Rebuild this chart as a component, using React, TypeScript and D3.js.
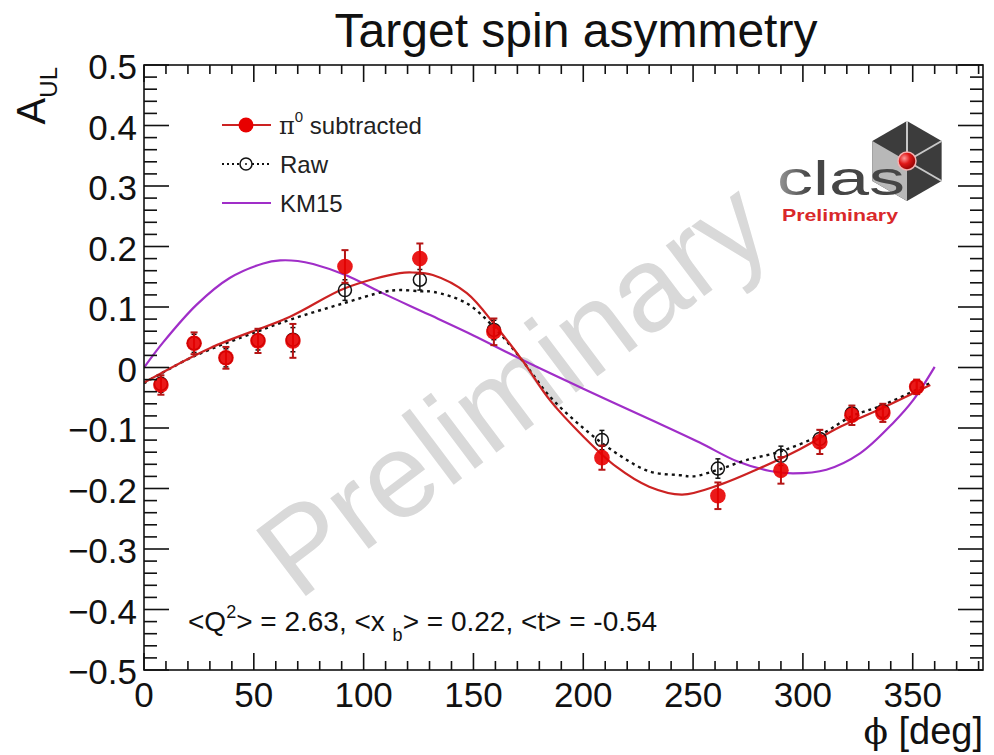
import React from "react";
import * as d3 from "d3";

// ---------- data ----------
const phiBins = [7.7, 22.8, 37.3, 51.9, 67.8, 91.5, 125.6, 159.3, 208.5, 261.3, 290, 307.7, 322.3, 336.4, 351.8];
const subtracted = [-0.029, 0.040, 0.016, 0.044, 0.044, 0.167, 0.180, 0.059, -0.149, -0.212, -0.170, -0.123, -0.079, -0.075, -0.032];
const subtractedErr = [0.016, 0.018, 0.018, 0.02, 0.028, 0.027, 0.025, 0.022, 0.02, 0.022, 0.022, 0.02, 0.016, 0.015, 0.012];
const raw = [-0.027, 0.040, 0.016, 0.045, 0.046, 0.128, 0.145, 0.062, -0.120, -0.167, -0.146, -0.118, -0.076, -0.072, -0.032];
const rawErr = [0.014, 0.015, 0.015, 0.016, 0.02, 0.017, 0.017, 0.016, 0.016, 0.016, 0.016, 0.015, 0.013, 0.012, 0.011];

const subFitPhi = [0, 30, 66.5, 91.5, 116.5, 122.5, 131.5, 147, 160.5, 172.6, 184.8, 200, 215, 230, 245, 262, 280, 298.6, 317, 335, 358];
const subFitA = [-0.025, 0.032, 0.084, 0.131, 0.156, 0.157, 0.153, 0.123, 0.067, 0.01, -0.054, -0.114, -0.164, -0.197, -0.21, -0.194, -0.167, -0.135, -0.098, -0.069, -0.029];

const rawFitPhi = [0, 22.4, 51.3, 66.5, 90.7, 109, 116.5, 125.6, 131.7, 147, 160.5, 172.6, 184.8, 200, 215.2, 230.3, 244, 250, 261.4, 274.3, 289.5, 307.7, 322, 336.5, 357.8];
const rawFitA = [-0.026, 0.018, 0.059, 0.079, 0.106, 0.125, 0.128, 0.126, 0.125, 0.106, 0.062, 0.01, -0.048, -0.1, -0.142, -0.172, -0.178, -0.18, -0.169, -0.153, -0.139, -0.112, -0.081, -0.062, -0.026];

const kmPhi = [0, 8.8, 24, 39, 54.3, 62, 70, 77, 92.3, 107.4, 130, 150, 172.6, 200, 230, 253, 270, 285, 295.5, 310.7, 326, 341, 350.2, 360];
const kmA = [0, 0.042, 0.104, 0.148, 0.172, 0.177, 0.176, 0.171, 0.152, 0.125, 0.087, 0.053, 0.012, -0.035, -0.085, -0.124, -0.155, -0.171, -0.175, -0.169, -0.142, -0.092, -0.054, 0.001];

const xMajorTicks = [0, 50, 100, 150, 200, 250, 300, 350];
const yMajorTicks = [-0.5, -0.4, -0.3, -0.2, -0.1, 0, 0.1, 0.2, 0.3, 0.4, 0.5];

const title = "Target spin asymmetry";
const legendLabels = ["subtracted", "Raw", "KM15"];

// ---------- layout ----------
const W = 994, H = 755;
const L = 144, R = 983, T = 65, B = 670;
const FONT = "'Liberation Sans', Arial, Helvetica, sans-serif";

const x = d3.scaleLinear().domain([0, 382]).range([L, R]);
const y = d3.scaleLinear().domain([-0.5, 0.5]).range([B, T]);

const RED = "#e80000";
const REDLINE = "#cc2222";
const PURPLE = "#a02ec8";

function fmtY(v: number) {
  if (Math.abs(v) < 1e-9) return "0";
  const s = Math.abs(v).toFixed(1);
  return v < 0 ? "\u2212" + s : s;
}

export default function App() {
  const xMinor = d3.range(0, 381, 10);
  const yMinor = d3.range(-50, 51, 2).map((v) => v / 100);

  const curve = d3.curveCatmullRom.alpha(0.5);
  const mkLine = (xs: number[], ys: number[]) =>
    d3.line<number>().x((_, i) => x(xs[i])).y((_, i) => y(ys[i])).curve(curve)(xs.map((_, i) => i)) || "";

  const subPath = mkLine(subFitPhi, subFitA);
  const rawPath = mkLine(rawFitPhi, rawFitA);
  const kmPath = mkLine(kmPhi, kmA);

  // hexagon for logo
  const hx = 907, hy = 161, hr = 40;
  const hexPts = d3.range(6).map((k) => {
    const a = ((-90 + 60 * k) * Math.PI) / 180;
    return [hx + hr * Math.cos(a), hy + hr * Math.sin(a)];
  });

  const legY = [125, 164, 203];

  return (
    <svg width={W} height={H} style={{ position: "absolute", left: 0, top: 0, background: "#fff" }} fontFamily={FONT}>
      <defs>
        <radialGradient id="ball" cx="35%" cy="35%" r="70%">
          <stop offset="0%" stopColor="#ff9a9a" />
          <stop offset="45%" stopColor="#e01818" />
          <stop offset="100%" stopColor="#8a0000" />
        </radialGradient>
        <linearGradient id="cgrad" x1="0" x2="1" y1="0" y2="0">
          <stop offset="0%" stopColor="#9a9a9a" />
          <stop offset="25%" stopColor="#454545" />
          <stop offset="100%" stopColor="#454545" />
        </linearGradient>
        <clipPath id="frame">
          <rect x={L} y={T} width={R - L} height={B - T} />
        </clipPath>
      </defs>
      <rect x={0} y={0} width={W} height={H} fill="#fff" />

      {/* title */}
      <text x={576} y={47} fontSize={48} textAnchor="middle" fill="#111">{title}</text>

      {/* watermark */}
      <text x={298} y={602} fontSize={120} fill="#d9d9d9" transform="rotate(-37 298 602)">Preliminary</text>

      {/* CLAS logo */}
      <g>
        <polygon points={hexPts.map((p) => p.join(",")).join(" ")} fill="#3c3c3c" />
        <polygon points={[[hx, hy], hexPts[3], hexPts[4], hexPts[5]].map((p) => p.join(",")).join(" ")} fill="#b8b8b8" />
        {[0, 1, 2].map((k) => (
          <line key={k} x1={hx} y1={hy} x2={hexPts[k][0]} y2={hexPts[k][1]} stroke="#c8c8c8" strokeWidth={2} />
        ))}
        <text x={777} y={195} fontSize={48} fill="url(#cgrad)" textLength={128} lengthAdjust="spacingAndGlyphs">clas</text>
        <circle cx={hx} cy={hy} r={9} fill="url(#ball)" stroke="#f4b0b0" strokeWidth={1.5} />
        <text x={782} y={221} fontSize={17} fontWeight="bold" fill="#d9282a" textLength={116} lengthAdjust="spacingAndGlyphs">Preliminary</text>
      </g>

      {/* curves */}
      <g clipPath="url(#frame)" fill="none">
        <path d={kmPath} stroke={PURPLE} strokeWidth={2.2} />
        <path d={rawPath} stroke="#111" strokeWidth={2.4} strokeDasharray="3,4" />
        <path d={subPath} stroke={REDLINE} strokeWidth={2.2} />
      </g>

      {/* raw points */}
      <g>
        {phiBins.map((p, i) => {
          const cx = x(p), cy = y(raw[i]);
          return (
            <g key={"r" + i} stroke="#111" strokeWidth={1.5}>
              <line x1={cx} x2={cx} y1={y(raw[i] + rawErr[i])} y2={y(raw[i] - rawErr[i])} />
              <line x1={cx - 2.5} x2={cx + 2.5} y1={y(raw[i] + rawErr[i])} y2={y(raw[i] + rawErr[i])} />
              <line x1={cx - 2.5} x2={cx + 2.5} y1={y(raw[i] - rawErr[i])} y2={y(raw[i] - rawErr[i])} />
              <circle cx={cx} cy={cy} r={6.5} fill="none" />
            </g>
          );
        })}
      </g>

      {/* subtracted points */}
      <g>
        {phiBins.map((p, i) => {
          const cx = x(p), cy = y(subtracted[i]);
          const e = subtractedErr[i];
          return (
            <g key={"s" + i}>
              <g stroke="#b51515" strokeWidth={2}>
                <line x1={cx} x2={cx} y1={y(subtracted[i] + e)} y2={y(subtracted[i] - e)} />
                <line x1={cx - 3.5} x2={cx + 3.5} y1={y(subtracted[i] + e)} y2={y(subtracted[i] + e)} />
                <line x1={cx - 3.5} x2={cx + 3.5} y1={y(subtracted[i] - e)} y2={y(subtracted[i] - e)} />
              </g>
              <circle cx={cx} cy={cy} r={7.8} fill={RED} fillOpacity={0.9} />
            </g>
          );
        })}
      </g>

      {/* frame */}
      <rect x={L} y={T} width={R - L} height={B - T} fill="none" stroke="#111" strokeWidth={1.6} />

      {/* ticks */}
      <g stroke="#111" strokeWidth={1.6}>
        {xMinor.map((v) => {
          const major = v % 50 === 0;
          const len = major ? 17 : 9;
          return (
            <g key={"xt" + v}>
              <line x1={x(v)} x2={x(v)} y1={B} y2={B - len} />
              <line x1={x(v)} x2={x(v)} y1={T} y2={T + len} />
            </g>
          );
        })}
        {yMinor.map((v, i) => {
          const major = i % 5 === 0;
          const len = major ? 25 : 13;
          return (
            <g key={"yt" + i}>
              <line x1={L} x2={L + len} y1={y(v)} y2={y(v)} />
              <line x1={R} x2={R - len} y1={y(v)} y2={y(v)} />
            </g>
          );
        })}
      </g>

      {/* tick labels */}
      <g fontSize={35} fill="#111">
        {xMajorTicks.map((v) => (
          <text key={"xl" + v} x={x(v)} y={707} textAnchor="middle">{v}</text>
        ))}
        {yMajorTicks.map((v) => (
          <text key={"yl" + v} x={137} y={y(v) + 14} textAnchor="end">{fmtY(v)}</text>
        ))}
      </g>

      {/* axis titles */}
      <text x={983} y={744} fontSize={38} textAnchor="end" fill="#111">
        <tspan fontFamily="'DejaVu Serif', serif" fontSize={36}>{"\u03D5"}</tspan>
        <tspan> [deg]</tspan>
      </text>
      <g transform="translate(45,67) rotate(-90)">
        <text x={0} y={0} textAnchor="end" fill="#111" fontSize={40}>
          <tspan>A</tspan>
          <tspan fontSize={24} dy={12}>UL</tspan>
        </text>
      </g>

      {/* legend */}
      <g fontSize={24} fill="#222">
        <line x1={222} x2={271} y1={legY[0]} y2={legY[0]} stroke={REDLINE} strokeWidth={2} />
        <circle cx={246} cy={legY[0]} r={7.5} fill={RED} />
        <text x={279} y={legY[0] + 9}>
          <tspan fontFamily="'DejaVu Serif', serif">{"\u03C0"}</tspan>
          <tspan fontSize={15} dy={-12}>0</tspan>
          <tspan dy={12}>{" " + legendLabels[0]}</tspan>
        </text>

        <line x1={222} x2={271} y1={legY[1]} y2={legY[1]} stroke="#111" strokeWidth={2} strokeDasharray="2,3" />
        <circle cx={246} cy={legY[1]} r={6} fill="#fff" stroke="#111" strokeWidth={1.5} />
        <circle cx={246} cy={legY[1]} r={1} fill="#111" />
        <text x={280} y={legY[1] + 9}>{legendLabels[1]}</text>

        <line x1={222} x2={271} y1={legY[2]} y2={legY[2]} stroke={PURPLE} strokeWidth={2.2} />
        <text x={280} y={legY[2] + 9}>{legendLabels[2]}</text>
      </g>

      {/* kinematics annotation */}
      <text x={188} y={631} fontSize={28} fill="#111">
        <tspan>{"<Q"}</tspan>
        <tspan fontSize={18} dy={-13}>2</tspan>
        <tspan dy={13}>{"> = 2.63, <x "}</tspan>
        <tspan fontSize={18} dy={10}>b</tspan>
        <tspan dy={-10}>{"> = 0.22, <t> = -0.54"}</tspan>
      </text>
    </svg>
  );
}
